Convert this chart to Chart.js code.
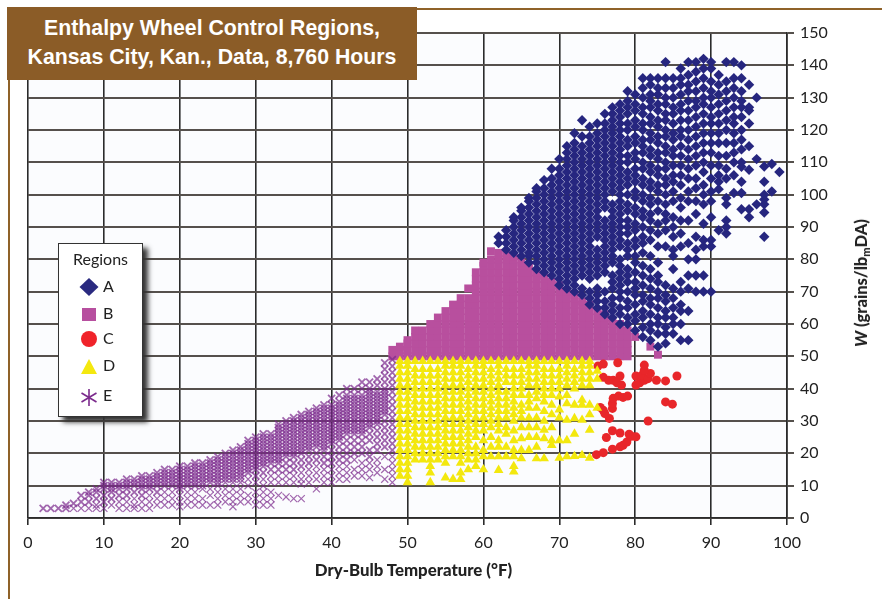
<!DOCTYPE html>
<html><head><meta charset="utf-8">
<script src="https://cdn.jsdelivr.net/npm/chart.js@4/dist/chart.umd.min.js"></script>
<style>
html,body{margin:0;padding:0;background:#fff;width:882px;height:599px;overflow:hidden}
#wrap{position:relative;width:882px;height:599px}
canvas{position:absolute;left:0;top:0}
#ruleL{position:absolute;left:7.5px;top:8px;width:2.5px;height:591px;background:#8f6229}
#ruleT{position:absolute;left:410px;top:8px;width:472px;height:2px;background:#8f6229}
#title{position:absolute;left:7px;top:7px;width:410px;height:73px;background:#8b5c27;color:#fff;font:bold 21.3px "Liberation Sans",Arial,sans-serif;line-height:29px;text-align:center;padding-top:7px;box-sizing:border-box}
#legend{position:absolute;left:58px;top:243px;width:85px;height:174px;box-sizing:border-box;background:#fff;border:1.6px solid #333;box-shadow:5px 5px 5px #333;font:16px Lato,sans-serif;color:#222}
#legend .h{position:absolute;left:0;width:100%;top:5px;text-align:center}
#legend .l{position:absolute;left:44px}
#legend svg{position:absolute;left:0;top:0}
#ytitle{position:absolute;left:861px;top:283px;transform:translate(-50%,-50%) rotate(-90deg);white-space:nowrap;font:900 16.5px Lato,sans-serif;color:#222}
#ytitle sub{font-size:11px;vertical-align:-3px;line-height:0}
#xtitle{position:absolute;left:413.5px;top:569px;transform:translate(-50%,-50%);white-space:nowrap;font:900 16.8px Lato,sans-serif;color:#222}
</style></head><body>
<div id="wrap">
<canvas id="c" width="882" height="599"></canvas>
<div id="ruleL"></div><div id="ruleT"></div>
<div id="title">Enthalpy Wheel Control Regions,<br>Kansas City, Kan., Data, 8,760 Hours</div>
<div id="legend"><div class="h">Regions</div>
<svg width="82" height="170">
<polygon points="30,34 39.5,43 30,52 20.5,43" fill="#2a2a80"/>
<rect x="23" y="64" width="14" height="13" fill="#b74f9f"/>
<circle cx="30" cy="95" r="8" fill="#f0232a"/>
<polygon points="30,115 38,130 22,130" fill="#f4e80f"/>
<g stroke="#7b2a8c" stroke-width="1.6"><line x1="30" y1="145" x2="30" y2="162"/><line x1="22.5" y1="149" x2="37.5" y2="158"/><line x1="22.5" y1="158" x2="37.5" y2="149"/></g>
</svg>
<div class="l" style="top:32px">A</div><div class="l" style="top:59px">B</div><div class="l" style="top:84px">C</div><div class="l" style="top:111px">D</div><div class="l" style="top:141px">E</div>
</div>
<div id="xtitle">Dry-Bulb Temperature (°F)</div>
<div id="ytitle"><i>W</i> (grains/lb<sub>m</sub>DA)</div>
</div>
<script>
const xTicks=[0,10,20,30,40,50,60,70,80,90,100];
const yTicks=[0,10,20,30,40,50,60,70,80,90,100,110,120,130,140,150];
// Region A: [temperature, [W values]]
const regionA=[
[62,[85,87]],
[63,[83,85,87,89]],
[64,[82,84,86,88,90,92,93]],
[65,[81,83,85,87,89,91,93,95,96]],
[66,[79,81,82,84,86,88,90,92,94,96,98,99]],
[67,[77,79,81,83,85,87,89,91,93,95,97,99,101,102]],
[68,[76,78,80,82,84,86,88,90,92,94,96,98,100,102,104.5]],
[69,[75,77,79,81,83,85,87,89,91,93,95,97,99,101,103,105,108]],
[70,[72,74,76,78,80,82,84,86,88,90,92,94,96,98,100,102,104,106,108,111]],
[71,[71,73,75,77,79,81,83,85,87,89,91,93,95,97,99,101,103,105,107,109,111,113,115]],
[72,[70,72,74,76,78,80,82,84,86,88,90,92,94,96,98,100,102,104,106,108,110,112,114,116,119]],
[73,[69,71,75,77,79,81,83,85,87,89,91,93,95,97,99,101,103,105,107,109,111,113,115,118,123]],
[74,[66,68,70,74,76,78,80,82,84,86,88,90,92,94,96,98,100,102,104,106,108,110,112,114,116,118,121]],
[75,[65,67,69,71,75,77,79,81,83,87,89,91,93,95,97,99,101,103,105,107,109,111,113,115,117,119,122]],
[76,[63,65,67,70,76,78,80,82,84,86,88,90,92,96,98,100,102,104,106,108,110,112,114,116,118,120,122,125]],
[77,[62,64,66,68,71,73,75,79,81,83,85,87,89,91,93,95,97,101,103,105,107,109,111,113,115,117,119,121,123,125,127]],
[78,[60,63,65,68,70,72,74,76,78,80,84,86,88,90,92,94,96,98,100,102,104,106,108,110,112,114,116,118,120,122,124,126,128]],
[79,[60,62,65,67,70,73,75,77,81,83,85,88,90,92,95,97,100,103,105,107,110,112,115,117,120,122,125,127,129,132]],
[80,[58,61,63,66,69,71,73,76,79,81,84,86,89,91,94,96,99,101,104,106,108,111,113,116,118,121,123,126,128,131]],
[81,[56,59,62,64,67,69,72,75,78,82,85,87,90,93,95,98,100,103,105,108,110,113,115,117,120,122,125,127,130,133,136]],
[82,[55,58,60,63,66,68,71,74,77,81,86,89,92,94,97,99,102,104,107,109,112,114,117,119,122,124,127,129,131,134,136]],
[83,[53,57,60,62,65,68,70,73,75,79,84,88,91,95,98,101,103,106,108,111,113,116,118,121,123,126,128,131,133,136]],
[84,[54,57,59,62,64,67,69,72,84,89,92,94,97,100,103,105,108,110,113,115,118,120,123,125,128,130,133,136,141]],
[85,[57,60,62,65,68,71,77,81,83,87,90,93,98,101,104,106,109,112,114,117,119,122,125,127,130,133,136]],
[86,[55,60,64,66,70,73,84,88,92,96,99,103,106,109,112,115,118,120,123,126,128,131,134,136,139]],
[87,[55,64,71,75,80,85,92,98,101,105,108,111,114,117,120,123,126,129,132,134,137,141]],
[88,[70,75,80,83,87,94,98,102,105,109,112,115,118,121,124,127,129,132,135,138,141]],
[89,[70,75,84,86,91,97,100,103,107,110,113,116,119,122,125,128,130,133,136,139,142]],
[90,[70,84,86,93,98,101,105,109,113,116,119,122,124,127,130,132,135,139,141]],
[91,[89,101.7,104,106,109,112,116,119,122,125,128,131,134,137]],
[92,[88,90,92,97,99,105,108,112,116,120,123,126,129,132,135,141]],
[93,[100.5,106,110,113,116,119,122,124,127,130,133,136,141]],
[94,[95.5,100.5,104,108.6,110,114,117,120,124,127,129,132,136,140]],
[95,[93,95.5,107.7,115,122,126,127,134]],
[96,[97,111,130]],
[97,[87,94.5,97,98.5,100,104,108.7]],
[98,[101,109.5]],
[99,[107]]
];
const regionB=[
[48,[50,52]],
[49,[50,52,53]],
[50,[50,52,54,55]],
[51,[50,52,54,56,58]],
[52,[50,52,54,56,58]],
[53,[50,52,54,56,58,60]],
[54,[50,52,54,56,58,60,62]],
[55,[50,52,54,56,58,60,62,64]],
[56,[50,52,54,56,58,60,62,64,66]],
[57,[50,52,54,56,58,60,62,64,66,68]],
[58,[50,52,54,56,58,60,62,64,66,68,71]],
[59,[50,52,54,56,58,60,62,64,66,68,70,72,74,76]],
[60,[50,52,54,56,58,60,62,64,66,68,70,72,74,76,78,79]],
[61,[50,52,54,56,58,60,62,64,66,68,70,72,74,76,78,80,82.5]],
[62,[50,52,54,56,58,60,62,64,66,68,70,72,74,76,78,80,82]],
[63,[50,52,54,56,58,60,62,64,66,68,70,72,74,76,78,80,82]],
[64,[50,52,54,56,58,60,62,64,66,68,70,72,74,76,78,80,81]],
[65,[50,52,54,56,58,60,62,64,66,68,70,72,74,76,78,79]],
[66,[50,52,54,56,58,60,62,64,66,68,70,72,74,76,78]],
[67,[50,52,54,56,58,60,62,64,66,68,70,72,74,76]],
[68,[50,52,54,56,58,60,62,64,66,68,70,72,74,75]],
[69,[50,52,54,56,58,60,62,64,66,68,70,72,73]],
[70,[50,52,54,56,58,60,62,64,66,68,70,72]],
[71,[50,52,54,56,58,60,62,64,66,68,70]],
[72,[50,52,54,56,58,60,62,64,66,68,69]],
[73,[50,52,54,56,58,60,62,64,66,67]],
[74,[50,52,54,56,58,60,62,64,66]],
[75,[50,52,54,56,58,60,62,64]],
[76,[50,52,54,56,58,60,62,63]],
[77,[50,52,54,56,58,60,61]],
[78,[50,52,54,56,58,60]],
[79,[50,52,54,56,58]],
[80,[56]],
[82,[53]],
[83,[50.5]]
];
const regionC=[[74.9,19.6],[75.8,20.2],[77,21.3],[78,22],[78.4,22.5],[78.9,23.5],[79.2,25.9],[79.5,25.3],[80.1,25.1],[78,26.3],[77,27],[76.2,24.9],[81.7,30],[76.6,30.8],[76,32.3],[75.4,34.2],[75.8,33.3],[77,33.9],[77,35.4],[77.1,37],[77.8,37.7],[78.4,37.3],[79,37.7],[84,35.9],[84.9,35.2],[75.8,43.5],[76.5,42.6],[77.1,42.6],[78,43.9],[77.6,41.8],[78.2,41.1],[80.1,43.9],[80.1,41.1],[80.6,41.8],[81.2,42.6],[80.9,44.2],[81.7,43.1],[82,44.7],[81.2,45.7],[81.2,47.3],[82.8,42.6],[84,42.4],[85.5,43.9],[77.7,48],[75.8,47.6],[75.1,47]];
const regionD=[
[49,[13,15,17,19,21,23,25,27,29,31,33,35,37,39,41,43,45,47,48.5]],
[50,[11,13,15,17,19,21,23,25,27,29,31,33,35,37,39,41,43,45,47,48.5]],
[51,[18,20,22,24,26,28,30,32,34,36,38,40,42,44,46,48.5]],
[52,[18,20,22,24,26,28,30,32,34,36,38,40,42,44,46,48.5]],
[53,[11,14,16,18,20,22,24,26,28,30,32,34,36,38,40,42,44,46,48.5]],
[54,[18,20,22,24,26,28,30,32,34,36,38,40,42,44,46,48.5]],
[55,[12.5,17,19,21,23,25,27,29,31,33,35,37,39,41,43,45,47,48.5]],
[56,[12,19,21,23,25,27,29,31,33,35,37,39,41,43,45,47,48.5]],
[57,[12,14,17,19,21,23,25,27,29,31,33,35,37,39,41,43,45,47,48.5]],
[58,[15,18,20,22,24,26,28,30,32,34,36,38,40,42,44,46,48.5]],
[59,[16,18,20,22,25,27,29,31,33,35,37,39,41,43,45,47,48.5]],
[60,[15,19,21,24,27,29,31,33,35,37,39,41,43,45,47,48.5]],
[61,[19,22,25,28,30,32,34,36,38,40,42,44,46,48.5]],
[62,[14.8,19,22,24,27,29,31,33,35,37,39,41,43,45,47,48.5]],
[63,[19,22,26,28,31,33,35,37,39,42,44,46,48.5]],
[64,[14.3,16,19,21,24,27,30,32,34,36,38,40,42,44,46,48.5]],
[65,[18.4,21,24.6,28,31,33,35,38,40,42,44,46,48.5]],
[66,[21,25,28,31,34,36,38,41,43,45,47,48.5]],
[67,[18.4,22,25,28,31,34,37,39,41,43,45,47,48.5]],
[68,[18.4,24.6,27.2,30,33,36,38,40,42,44,46,48.5]],
[69,[22.5,24,28,32,35,38,40,42,44,46,48.5]],
[70,[18.6,24,31,33.5,37.5,40,42,44,46,48.5]],
[71,[19,24,30.3,35.4,38,41,43,45,47,48.5]],
[72,[19.1,26,30.8,35,40,42,44,46,48.5]],
[73,[19.4,30.3,35,36.5,41,43,45,47,48.5]],
[74,[18.6,27.2,32,35,41,43,45,47,48.5]],
[75,[34,43,45.5]]
];
const regionE=[
[2,[3]],[3,[3]],[4,[3]],[5,[3,4]],[6,[3,4.5]],[7,[3,5,7]],[8,[3,5,7,8]],[9,[3,4,6,8,9]],
[10,[3,5,7,9,10,11]],[11,[4,6,8,9,10,11]],[12,[3,5,7,9,10,11]],[13,[3,5,7,9,10,11,12]],[14,[3,4,6,8,10,11,12]],
[15,[3,5,7,9,10,11,12,13]],[16,[3,5,7,9,10,11,12,13]],[17,[4,6,8,10,11,12,13,14]],[18,[4,6,8,10,11,12,13,14,15]],
[19,[4,6,8,10,11,12,13,14,15]],[20,[3.5,5,7,9,10,11,12,13,14,15,16]],[21,[4,6,8,10,11,12,13,14,15,16]],
[22,[4,6,8,10,11,12,13,14,15,16,17]],[23,[4,6,9,10,11,12,13,14,15,16,17]],[24,[4,7,9,11,12,13,14,15,16,17,18]],
[25,[4,6,8,10,11,12,13,14,15,16,17,18,19]],[26,[5,7,9,11,12,13,14,15,16,17,18,19,20]],
[27,[3.5,5,7,9,11,12,13,14,15,16,17,18,19,20,21]],[28,[5,7,9,11,12,13,14,15,16,17,18,19,20,21,22]],
[29,[5,7,10,12,14,15,16,17,18,19,20,21,22,23,24]],[30,[4,6,8,11,13,15,16,17,18,19,20,21,22,23,24,25]],
[31,[4,6,8,10,12,14,16,17,18,19,20,21,22,23,24,25,26]],[32,[4,6,8,11,13,15,17,18,19,20,21,22,23,24,25,26]],
[33,[7,11,13,15,17,18,19,20,21,22,23,24,25,26,27,28,29]],[34,[6.5,11,13,15,17,19,20,21,22,23,24,25,26,27,28,29,30]],
[35,[6,11,13,15,17,19,20,21,22,23,24,25,26,27,28,29,30,31]],[36,[6,10.5,12,14,16,18,20,21,22,23,24,25,26,27,28,29,30,31,32]],
[37,[11,13,15,17,19,21,22,23,24,25,26,27,28,29,30,31,32,33]],[38,[9,12,14,16,18,20,22,23,24,25,26,27,28,29,30,31,32,33,34]],
[39,[11,13,15,17,19,21,22,23,24,25,26,27,28,29,30,31,32,33,34,35]],[40,[11,13,15,17,19,21,23,24,25,26,27,28,29,30,31,32,33,34,35,37]],
[41,[12,14,16,18,20,22,24,25,26,27,28,29,30,31,32,33,34,35,36,38]],[42,[12,14,16,18,20,22,24,26,27,28,29,30,31,32,33,34,35,36,37,38,40]],
[43,[13,15,18,20,22,24,26,27,28,29,30,31,32,33,34,35,36,37,38,40]],[44,[13,15,17,20,22,24,26,27,28,29,30,31,32,33,34,35,36,37,38,40,42]],
[45,[12.5,15,17,19,21,24,26,28,29,30,31,32,33,34,35,36,37,38,39,40,42]],[46,[14,16,18,21,23,25,27,29,30,31,32,33,34,35,36,37,38,39,41,43]],
[47,[12,15,19,22,24,26,28,30,32,33,34,35,36,37,38,39,40,42,44,46,48]],[48,[11,13,15,17,19,21,23,25,27,29,31,33,35,37,39,41,43,45,47,49]]
];
const toPoints=c=>c.flatMap(([x,ws])=>ws.map(y=>({x,y})));
const pairs=c=>c.map(([x,y])=>({x,y}));
const ds=(label,data,color,style,r,order,extra={})=>Object.assign({label,data,pointStyle:style,pointRadius:r,pointHoverRadius:r,backgroundColor:color,borderColor:color,pointBorderWidth:0,showLine:false,order},extra);
const plotBg={id:'plotBg',beforeDraw(ch){const a=ch.chartArea,x=ch.ctx;x.save();x.fillStyle='#fbfcfe';x.fillRect(a.left,a.top,a.right-a.left,a.bottom-a.top);x.restore();}};
const eWidth=c=>{const p=c.raw;return p&&p.y<0.4*p.x+1?1.2:1.8};
new Chart(document.getElementById('c'),{
 type:'scatter',
 data:{datasets:[
  ds('D',toPoints(regionD),'#f3e80e','triangle',5.6,1),
  ds('C',pairs(regionC),'#e8262a','circle',4.5,2),
  ds('E',toPoints(regionE),'rgba(123,40,140,.7)','crossRot',5,3,{pointBorderWidth:eWidth,borderColor:'rgba(123,40,140,.7)'}),
  ds('A',toPoints(regionA),'#26267f','rectRot',5.2,4),
  ds('B',toPoints(regionB),'#b84f9e','rect',5.6,5)
 ]},
 plugins:[plotBg],
 options:{
  responsive:false,animation:false,
  layout:{padding:{left:28,top:33,right:0,bottom:0}},
  plugins:{legend:{display:false},tooltip:{enabled:false},title:{display:false}},
  scales:{
   x:{type:'linear',min:0,max:100,afterFit(s){s.height=81},
     afterBuildTicks(s){s.ticks=xTicks.map(v=>({value:v}))},
     grid:{color:'#2b2b2b',lineWidth:1.6,drawTicks:true,tickLength:7,tickColor:'#2b2b2b'},border:{color:'#2b2b2b',width:1.6},
     ticks:{font:{family:'Lato',size:16},color:'#222',padding:8,maxRotation:0,autoSkip:false}},
   y:{type:'linear',position:'right',min:0,max:150,afterFit(s){s.width=95},
     afterBuildTicks(s){s.ticks=yTicks.map(v=>({value:v}))},
     grid:{color:'#55504c',lineWidth:2,tickLength:7,tickColor:'#55504c'},border:{color:'#2b2b2b',width:1.6},
     ticks:{font:{family:'Lato',size:16},color:'#222',padding:6,autoSkip:false}}
  }
 }
});
</script>
</body></html>
